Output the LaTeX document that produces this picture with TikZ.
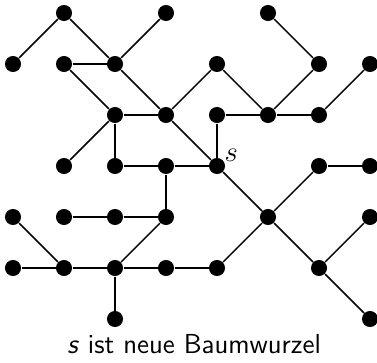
\documentclass[tikz,border=0pt]{standalone}
\usepackage{tikz}
\usetikzlibrary{positioning}
\usepackage{amsmath}

\tikzset{
  dot/.style={circle, fill=black, inner sep=0pt, minimum size=0.236cm},
  edge/.style={line width=0.6pt}
}

\begin{document}
\begin{tikzpicture}[x=0.75cm, y=0.75cm]
  \useasboundingbox (-0.255,-0.843) rectangle (7.137,6.255);
  % each dot: \node[dot] (n<col><row>) at (col,row) {};
  \node[dot] (n16) at (1,6) {};
  \node[dot] (n36) at (3,6) {};
  \node[dot] (n56) at (5,6) {};
  \node[dot] (n05) at (0,5) {};
  \node[dot] (n15) at (1,5) {};
  \node[dot] (n25) at (2,5) {};
  \node[dot] (n45) at (4,5) {};
  \node[dot] (n65) at (6,5) {};
  \node[dot] (n75) at (7,5) {};
  \node[dot] (n24) at (2,4) {};
  \node[dot] (n34) at (3,4) {};
  \node[dot] (n44) at (4,4) {};
  \node[dot] (n54) at (5,4) {};
  \node[dot] (n64) at (6,4) {};
  \node[dot] (n13) at (1,3) {};
  \node[dot] (n23) at (2,3) {};
  \node[dot] (n33) at (3,3) {};
  \node[dot] (s)   at (4,3) {};
  \node[dot] (n63) at (6,3) {};
  \node[dot] (n73) at (7,3) {};
  \node[dot] (n02) at (0,2) {};
  \node[dot] (n12) at (1,2) {};
  \node[dot] (n22) at (2,2) {};
  \node[dot] (n32) at (3,2) {};
  \node[dot] (n52) at (5,2) {};
  \node[dot] (n72) at (7,2) {};
  \node[dot] (n01) at (0,1) {};
  \node[dot] (n11) at (1,1) {};
  \node[dot] (n21) at (2,1) {};
  \node[dot] (n31) at (3,1) {};
  \node[dot] (n41) at (4,1) {};
  \node[dot] (n61) at (6,1) {};
  \node[dot] (n20) at (2,0) {};
  \node[dot] (n70) at (7,0) {};

  \node[inner sep=1pt, font=\fontsize{11.5}{14}\selectfont, above right=-2pt and -0.5pt of s] (slabel) {$s$};

  % edges
  \draw[edge] (n16) -- (n05);
  \draw[edge] (n16) -- (n25);
  \draw[edge] (n36) -- (n25);
  \draw[edge] (n15) -- (n25);
  \draw[edge] (n15) -- (n24);
  \draw[edge] (n25) -- (n34);
  \draw[edge] (n24) -- (n34);
  \draw[edge] (n24) -- (n13);
  \draw[edge] (n24) -- (n23);
  \draw[edge] (n23) -- (n33);
  \draw[edge] (n33) -- (s);
  \draw[edge] (n33) -- (n32);
  \draw[edge] (n34) -- (n45);
  \draw[edge] (n34) -- (s);
  \draw[edge] (n56) -- (n65);
  \draw[edge] (n45) -- (n54);
  \draw[edge] (n65) -- (n54);
  \draw[edge] (n75) -- (n64);
  \draw[edge] (n44) -- (n54);
  \draw[edge] (n54) -- (n64);
  \draw[edge] (n44) -- (s);
  \draw[edge] (s)   -- (n52);
  \draw[edge] (n63) -- (n73);
  \draw[edge] (n63) -- (n52);
  \draw[edge] (n52) -- (n41);
  \draw[edge] (n52) -- (n61);
  \draw[edge] (n61) -- (n72);
  \draw[edge] (n61) -- (n70);
  \draw[edge] (n12) -- (n22);
  \draw[edge] (n22) -- (n32);
  \draw[edge] (n02) -- (n11);
  \draw[edge] (n01) -- (n11);
  \draw[edge] (n11) -- (n21);
  \draw[edge] (n21) -- (n32);
  \draw[edge] (n21) -- (n31);
  \draw[edge] (n21) -- (n20);
  \draw[edge] (n31) -- (n41);

  \node[anchor=base, font=\sffamily\fontsize{11.5}{14}\selectfont] (caption) at (3.55,-0.667) {\textit{s} ist neue Baumwurzel};
\end{tikzpicture}
\end{document}
